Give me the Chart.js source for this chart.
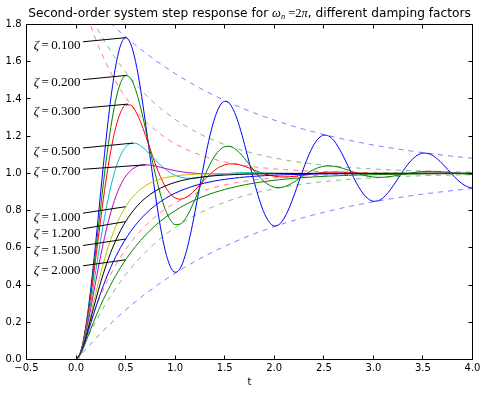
<!DOCTYPE html>
<html><head><meta charset="utf-8">
<script src="https://cdn.jsdelivr.net/npm/chart.js@4.4.0/dist/chart.umd.min.js"></script>
<style>html,body{margin:0;padding:0;background:#fff;}canvas{display:block;}</style>
</head><body>
<canvas id="c" width="486" height="395"></canvas>
<script>
// ---- data ----
const tValues = [0,0.05,0.1,0.15,0.2,0.25,0.3,0.35,0.4,0.45,0.5,0.55,0.6,0.65,0.7,0.75,0.8,0.85,0.9,0.95,1,
1.05,1.1,1.15,1.2,1.25,1.3,1.35,1.4,1.45,1.5,1.55,1.6,1.65,1.7,1.75,1.8,1.85,1.9,1.95,2,
2.05,2.1,2.15,2.2,2.25,2.3,2.35,2.4,2.45,2.5,2.55,2.6,2.65,2.7,2.75,2.8,2.85,2.9,2.95,3,
3.05,3.1,3.15,3.2,3.25,3.3,3.35,3.4,3.45,3.5,3.55,3.6,3.65,3.7,3.75,3.8,3.85,3.9,3.95,4];
const tEnvelope = [0,0.1,0.2,0.3,0.4,0.5,0.6,0.7,0.8,0.9,1,1.1,1.2,1.3,1.4,1.5,1.6,1.7,1.8,1.9,2,
2.1,2.2,2.3,2.4,2.5,2.6,2.7,2.8,2.9,3,3.1,3.2,3.3,3.4,3.5,3.6,3.7,3.8,3.9,4];

const zetaLabels = ['0.100','0.200','0.300','0.500','0.700','1.000','1.200','1.500','2.000'];

const resp010 = [0,0.0479,0.1833,0.3879,0.6381,0.9074,1.1691,1.3988,1.5767,1.6890,1.7292,
1.6977,1.6019,1.4551,1.2736,1.0775,0.8859,0.7168,0.5849,0.5004,0.4685,
0.4889,0.5566,0.6622,0.7934,0.9363,1.0765,1.2009,1.2986,1.3621,1.3874,
1.3744,1.3266,1.2508,1.1557,1.0518,0.9492,0.8577,0.7853,0.7376,0.7178,
0.7259,0.7595,0.8139,0.8827,0.9584,1.0334,1.1007,1.1544,1.1901,1.2056,
1.2007,1.1770,1.1380,1.0882,1.0332,0.9783,0.9288,0.8891,0.8624,0.8503,
0.8531,0.8698,0.8978,0.9337,0.9738,1.0139,1.0502,1.0796,1.0996,1.1090,
1.1074,1.0958,1.0757,1.0498,1.0206,0.9913,0.9646,0.9429,0.9279,0.9207];
const resp020 = [0,0.0470,0.1760,0.3656,0.5913,0.8278,1.0523,1.2454,1.3932,1.4874,1.5255,
1.5109,1.4510,1.3567,1.2406,1.1162,0.9958,0.8900,0.8068,0.7512,0.7250,
0.7273,0.7543,0.8008,0.8601,0.9253,0.9896,1.0473,1.0938,1.1262,1.1432,
1.1450,1.1333,1.1106,1.0805,1.0465,1.0123,0.9809,0.9550,0.9364,0.9258,
0.9232,0.9280,0.9389,0.9541,0.9717,0.9899,1.0068,1.0211,1.0318,1.0383,
1.0405,1.0387,1.0336,1.0260,1.0168,1.0073,0.9981,0.9903,0.9842,0.9803,
0.9787,0.9793,0.9816,0.9854,0.9901,0.9951,1.0000,1.0043,1.0077,1.0100,
1.0111,1.0111,1.0100,1.0081,1.0057,1.0031,1.0005,0.9982,0.9962,0.9949];
const resp030 = [0,0.0460,0.1692,0.3454,0.5498,0.7590,0.9540,1.1195,1.2459,1.3287,1.3679,
1.3676,1.3345,1.2773,1.2051,1.1271,1.0511,0.9836,0.9292,0.8905,0.8681,
0.8614,0.8682,0.8856,0.9102,0.9386,0.9676,0.9945,1.0173,1.0346,1.0458,
1.0511,1.0509,1.0461,1.0381,1.0281,1.0172,1.0067,0.9974,0.9900,0.9847,
0.9817,0.9808,0.9818,0.9842,0.9877,0.9916,0.9956,0.9994,1.0025,1.0049,
1.0064,1.0071,1.0070,1.0064,1.0052,1.0038,1.0023,1.0009,0.9996,0.9986,
0.9979,0.9974,0.9973,0.9975,0.9978,0.9983,0.9989,0.9994,0.9999,1.0004,
1.0007,1.0009,1.0010,1.0010,1.0009,1.0007,1.0005,1.0003,1.0001,0.9999];
const resp050 = [0,0.0442,0.1568,0.3099,0.4796,0.6474,0.7994,0.9274,1.0270,1.0974,1.1407,
1.1605,1.1615,1.1486,1.1267,1.1001,1.0723,1.0458,1.0227,1.0039,0.9898,
0.9804,0.9752,0.9734,0.9744,0.9772,0.9812,0.9857,0.9902,0.9943,0.9978,
1.0005,1.0024,1.0037,1.0042,1.0043,1.0040,1.0034,1.0027,1.0020,1.0013,
1.0007,1.0001,0.9998,0.9995,0.9994,0.9993,0.9993,0.9994,0.9995,0.9996,
0.9998,0.9999,1,1,1,1,1,1,1,1,
1,1,1,1,1,1,1,1,1,1,
1,1,1,1,1,1,1,1,1,1];
const resp070 = [0,0.0425,0.1457,0.2799,0.4233,0.5614,0.6851,0.7897,0.8737,0.9379,0.9841,
1.0151,1.0339,1.0434,1.0460,1.0440,1.0393,1.0331,1.0265,1.0202,1.0145,
1.0097,1.0058,1.0029,1.0007,0.9993,0.9984,0.9980,0.9979,0.9980,0.9982,
0.9985,0.9988,0.9991,0.9993,0.9996,0.9997,0.9999,1,1,1,
1,1,1,1,1,1,1,1,1,1,
1,1,1,1,1,1,1,1,1,1,
1,1,1,1,1,1,1,1,1,1,
1,1,1,1,1,1,1,1,1,1];
const resp100 = [0,0.0401,0.1313,0.2431,0.3577,0.4656,0.5620,0.6452,0.7154,0.7736,0.8210,
0.8594,0.8900,0.9144,0.9336,0.9487,0.9605,0.9696,0.9767,0.9822,0.9864,
0.9896,0.9921,0.9940,0.9955,0.9966,0.9974,0.9980,0.9985,0.9989,0.9992,
0.9994,0.9995,0.9996,0.9997,0.9998,0.9998,0.9999,0.9999,0.9999,1,
1,1,1,1,1,1,1,1,1,1,
1,1,1,1,1,1,1,1,1,1,
1,1,1,1,1,1,1,1,1,1,
1,1,1,1,1,1,1,1,1,1];
const resp120 = [0,0.0387,0.1230,0.2229,0.3234,0.4171,0.5013,0.5752,0.6392,0.6941,0.7410,
0.7808,0.8146,0.8433,0.8675,0.8881,0.9054,0.9201,0.9325,0.9429,0.9518,
0.9593,0.9656,0.9709,0.9754,0.9793,0.9825,0.9852,0.9875,0.9894,0.9911,
0.9925,0.9936,0.9946,0.9954,0.9962,0.9968,0.9973,0.9977,0.9980,0.9983,
0.9986,0.9988,0.9990,0.9992,0.9993,0.9994,0.9995,0.9996,0.9996,0.9997,
0.9997,0.9998,0.9998,0.9998,0.9998,0.9999,0.9999,0.9999,0.9999,0.9999,
1,1,1,1,1,1,1,1,1,1,
1,1,1,1,1,1,1,1,1,1];
const resp150 = [0,0.0366,0.1120,0.1976,0.2819,0.3602,0.4313,0.4951,0.5519,0.6025,0.6474,
0.6872,0.7226,0.7540,0.7818,0.8065,0.8283,0.8478,0.8650,0.8802,0.8938,
0.9058,0.9164,0.9259,0.9343,0.9417,0.9483,0.9541,0.9593,0.9639,0.9680,
0.9716,0.9748,0.9777,0.9802,0.9824,0.9844,0.9862,0.9877,0.9891,0.9904,
0.9915,0.9924,0.9933,0.9940,0.9947,0.9953,0.9958,0.9963,0.9967,0.9971,
0.9974,0.9977,0.9980,0.9982,0.9984,0.9986,0.9987,0.9989,0.9990,0.9991,
0.9992,0.9993,0.9994,0.9994,0.9995,0.9996,0.9996,0.9997,0.9997,0.9997,
0.9998,0.9998,0.9998,0.9998,0.9999,0.9999,0.9999,0.9999,0.9999,0.9999];
const resp200 = [0,0.0336,0.0970,0.1654,0.2314,0.2930,0.3499,0.4024,0.4506,0.4949,0.5357,
0.5732,0.6077,0.6393,0.6684,0.6952,0.7198,0.7424,0.7632,0.7823,0.7999,
0.8161,0.8309,0.8446,0.8571,0.8687,0.8793,0.8890,0.8980,0.9062,0.9138,
0.9207,0.9271,0.9330,0.9384,0.9434,0.9480,0.9522,0.9560,0.9596,0.9628,
0.9658,0.9686,0.9711,0.9735,0.9756,0.9776,0.9794,0.9811,0.9826,0.9840,
0.9853,0.9865,0.9876,0.9886,0.9895,0.9903,0.9911,0.9918,0.9925,0.9931,
0.9937,0.9942,0.9946,0.9951,0.9955,0.9958,0.9962,0.9965,0.9968,0.9970,
0.9973,0.9975,0.9977,0.9979,0.9980,0.9982,0.9984,0.9985,0.9986,0.9987];

const env010Upper = [2.0050,1.9438,1.8864,1.8324,1.7817,1.7341,1.6894,1.6474,1.6080,1.5709,1.5362,1.5035,1.4729,1.4441,1.4170,1.3916,1.3678,1.3454,1.3243,1.3046,1.2860,1.2686,1.2523,1.2369,1.2225,1.2089,1.1962,1.1843,1.1730,1.1625,1.1526,1.1433,1.1346,1.1264,1.1187,1.1115,1.1047,1.0983,1.0923,1.0867,1.0814];
const env010Lower = [-0.0050,0.0562,0.1136,0.1676,0.2183,0.2659,0.3106,0.3526,0.3920,0.4291,0.4638,0.4965,0.5271,0.5559,0.5830,0.6084,0.6322,0.6546,0.6757,0.6954,0.7140,0.7314,0.7477,0.7631,0.7775,0.7911,0.8038,0.8157,0.8270,0.8375,0.8474,0.8567,0.8654,0.8736,0.8813,0.8885,0.8953,0.9017,0.9077,0.9133,0.9186];
const env020Upper = [2.0206,1.9001,1.7938,1.7001,1.6174,1.5445,1.4802,1.4235,1.3735,1.3294,1.2905,1.2562,1.2259,1.1992,1.1757,1.1550,1.1367,1.1205,1.1063,1.0937,1.0827,1.0729,1.0643,1.0567,1.0500,1.0441,1.0389,1.0343,1.0303,1.0267,1.0235,1.0208,1.0183,1.0161,1.0142,1.0126,1.0111,1.0098,1.0086,1.0076,1.0067];
const env020Lower = [-0.0206,0.0999,0.2062,0.2999,0.3826,0.4555,0.5198,0.5765,0.6265,0.6706,0.7095,0.7438,0.7741,0.8008,0.8243,0.8450,0.8633,0.8795,0.8937,0.9063,0.9173,0.9271,0.9357,0.9433,0.9500,0.9559,0.9611,0.9657,0.9697,0.9733,0.9765,0.9792,0.9817,0.9839,0.9858,0.9874,0.9889,0.9902,0.9914,0.9924,0.9933];
const env030Upper = [2.0483,1.8682,1.7190,1.5955,1.4932,1.4085,1.3383,1.2802,1.2320,1.1922,1.1592,1.1318,1.1092,1.0904,1.0749,1.0620,1.0514,1.0425,1.0352,1.0292,1.0242,1.0200,1.0166,1.0137,1.0114,1.0094,1.0078,1.0065,1.0053,1.0044,1.0037,1.0030,1.0025,1.0021,1.0017,1.0014,1.0012,1.0010,1.0008,1.0007,1.0006];
const env030Lower = [-0.0483,0.1318,0.2810,0.4045,0.5068,0.5915,0.6617,0.7198,0.7680,0.8078,0.8408,0.8682,0.8908,0.9096,0.9251,0.9380,0.9486,0.9575,0.9648,0.9708,0.9758,0.9800,0.9834,0.9863,0.9886,0.9906,0.9922,0.9935,0.9947,0.9956,0.9963,0.9970,0.9975,0.9979,0.9983,0.9986,0.9988,0.9990,0.9992,0.9993,0.9994];

// annotation target points (peak or value at t=0.5)
const annotT = [0.5025,0.5103,0.5241,0.5774,0.7001,0.5,0.5,0.5,0.5];
const annotY = [1.7292,1.5266,1.3723,1.1630,1.0460,0.8210,0.7410,0.6474,0.5357];

// ---- styles / layout ----
const respColors = ['#0000ff','#008000','#ff0000','#00bfbf','#bf00bf','#bfbf00','#000000','#0000ff','#008000'];
const respSeries = [resp010,resp020,resp030,resp050,resp070,resp100,resp120,resp150,resp200];
const labelCenterY = [1.694,1.490,1.338,1.123,1.012,0.765,0.679,0.591,0.484];
const labelRightT = 0.045;

function pts(xs, ys){ return xs.map((x,i)=>({x:x,y:ys[i]})); }

const datasets = [];
respSeries.forEach((s,i)=>{
  datasets.push({data:pts(tValues,s), borderColor:respColors[i], borderWidth:1, pointRadius:0,
    cubicInterpolationMode:'monotone', fill:false, order: 10 - i});
});
const envs = [[env010Upper,'rgba(0,0,255,0.5)'],[env010Lower,'rgba(0,0,255,0.5)'],
  [env020Upper,'rgba(0,128,0,0.5)'],[env020Lower,'rgba(0,128,0,0.5)'],
  [env030Upper,'rgba(255,0,0,0.5)'],[env030Lower,'rgba(255,0,0,0.5)']];
envs.forEach(([s,c])=>{
  datasets.push({data:pts(tEnvelope,s), borderColor:c, borderWidth:1, borderDash:[5,5], pointRadius:0,
    cubicInterpolationMode:'monotone', fill:false, order: 20});
});

const bgPlugin = {id:'bg', beforeDraw(chart){const c=chart.ctx; c.save(); c.fillStyle='#fff'; c.fillRect(0,0,chart.width,chart.height); c.restore();}};

const decoPlugin = {
  id:'deco',
  afterDatasetsDraw(chart){
    const ctx = chart.ctx, a = chart.chartArea, xs = chart.scales.x, ys = chart.scales.y;
    ctx.save();
    ctx.strokeStyle = '#000'; ctx.lineWidth = 1;
    ctx.strokeRect(a.left, a.top, a.right - a.left, a.bottom - a.top);
    const tl = 4;
    ctx.beginPath();
    xs.ticks.forEach(t=>{ const px = Math.round(xs.getPixelForValue(t.value)-0.5)+0.5;
      ctx.moveTo(px,a.bottom); ctx.lineTo(px,a.bottom-tl); ctx.moveTo(px,a.top); ctx.lineTo(px,a.top+tl); });
    ys.ticks.forEach(t=>{ const py = Math.round(ys.getPixelForValue(t.value)-0.5)+0.5;
      ctx.moveTo(a.left,py); ctx.lineTo(a.left+tl,py); ctx.moveTo(a.right,py); ctx.lineTo(a.right-tl,py); });
    ctx.stroke();

    // annotations
    const fs = 13;
    zetaLabels.forEach((lab,i)=>{
      const cy = ys.getPixelForValue(labelCenterY[i]);
      const right = xs.getPixelForValue(labelRightT);
      ctx.font = fs+'px "Liberation Serif"';
      const wNum = ctx.measureText(lab).width;
      const wEq = ctx.measureText('=').width;
      ctx.font = 'italic '+fs+'px "Liberation Serif"';
      const wZ = ctx.measureText('ζ').width;
      const gap = 2.5;
      const total = wZ + gap + wEq + gap + wNum;
      let x = right - total;
      const base = cy + 4.3;
      ctx.fillStyle = '#000';
      ctx.textBaseline = 'alphabetic'; ctx.textAlign = 'left';
      ctx.fillText('ζ', x, base); x += wZ + gap;
      ctx.font = fs+'px "Liberation Serif"';
      ctx.fillText('=', x, base); x += wEq + gap;
      ctx.fillText(lab, x, base);
      const cx = right - total/2;
      const tx = xs.getPixelForValue(annotT[i]), ty = ys.getPixelForValue(annotY[i]);
      const sx = right + 2.5;
      const sy = cy + (ty - cy) * (sx - cx) / (tx - cx);
      ctx.beginPath(); ctx.moveTo(sx, sy); ctx.lineTo(tx, ty); ctx.stroke();
    });

    // title
    const segs = [
      ['Second-order system step response for ', '12.2px "DejaVu Sans"', 0],
      ['ω', 'italic 12.5px "Liberation Serif"', 0],
      ['n', 'italic 8.5px "Liberation Serif"', 2.5],
      [' =2', '12.5px "Liberation Serif"', 0],
      ['π', 'italic 12.5px "Liberation Serif"', 0],
      [', different damping factors', '12.2px "DejaVu Sans"', 0]
    ];
    let tw = 0;
    segs.forEach(s=>{ ctx.font = s[1]; tw += ctx.measureText(s[0]).width; });
    let tx0 = (a.left + a.right)/2 - tw/2;
    const tb = 16.5;
    segs.forEach(s=>{ ctx.font = s[1]; ctx.fillText(s[0], tx0, tb + s[2]); tx0 += ctx.measureText(s[0]).width; });
    ctx.restore();
  }
};

const fmt = v => { const s = Number(v).toFixed(1); return s.replace('-', '\u2212'); };

new Chart(document.getElementById('c'), {
  type:'line',
  data:{datasets:datasets},
  options:{
    responsive:false, animation:false, devicePixelRatio:1,
    layout:{padding:{top:24.5, right:13.5, left:0, bottom:0}},
    plugins:{legend:{display:false}, tooltip:{enabled:false}, title:{display:false}},
    elements:{line:{borderCapStyle:'butt'}},
    scales:{
      x:{type:'linear', min:-0.5, max:4,
        grid:{display:false, drawTicks:false}, border:{display:false},
        ticks:{stepSize:0.5, autoSkip:false, maxRotation:0, padding:3, color:'#000',
          font:{family:'DejaVu Sans', size:10}, callback:fmt},
        title:{display:true, text:'t', color:'#000', font:{family:'DejaVu Sans', size:10}, padding:{top:0,bottom:7}},
        afterFit(s){ s.height = 35.5; }
      },
      y:{type:'linear', min:0, max:1.8,
        grid:{display:false, drawTicks:false}, border:{display:false},
        ticks:{stepSize:0.2, autoSkip:false, padding:5, color:'#000',
          font:{family:'DejaVu Sans', size:10}, callback:fmt},
        afterFit(s){ s.width = 26.5; }
      }
    }
  },
  plugins:[bgPlugin, decoPlugin]
});
</script>
</body></html>
